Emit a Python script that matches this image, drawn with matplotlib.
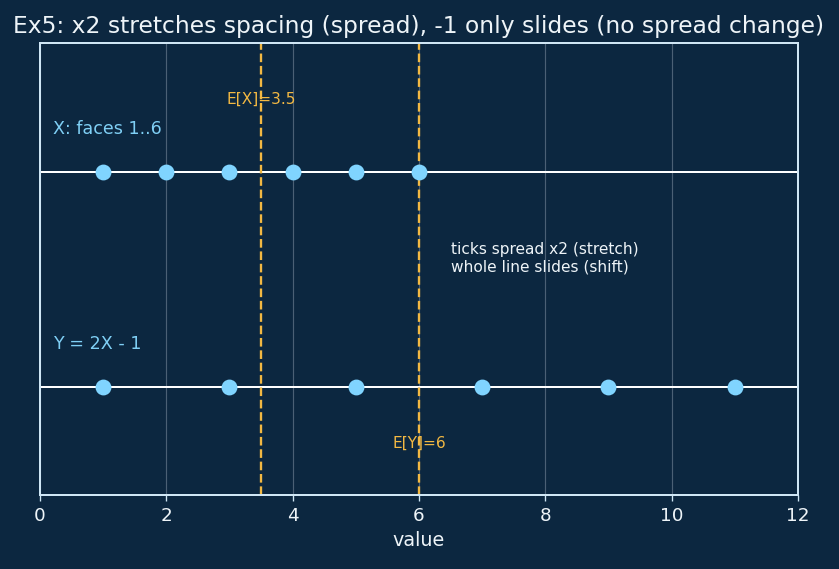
import matplotlib
matplotlib.use("Agg")
import matplotlib.pyplot as plt
import numpy as np

x_vals = [1, 2, 3, 4, 5, 6]
y_vals = [1, 3, 5, 7, 9, 11]
mean_x = 3.5
mean_y = 6
row_x = 1.0
row_y = 0.0
xticks = [0, 2, 4, 6, 8, 10, 12]

BG = "#0c2740"
DOT = "#80d4ff"
GOLD = "#f2b843"
LABEL = "#7fcff5"
SPINE = "#cfe6f5"
TXT = "#eef4f8"

W, H = 839, 569
fig = plt.figure(figsize=(W / 120, H / 120), dpi=120, facecolor=BG)
ax = fig.add_axes([40 / W, (H - 495) / H, 758 / W, 452 / H])
ax.set_facecolor(BG)

ax.axhline(row_x, color="white", lw=1.2, zorder=2)
ax.axhline(row_y, color="white", lw=1.2, zorder=2)
ax.plot(x_vals, [row_x] * len(x_vals), "o", color=DOT, ms=8.5, zorder=3)
ax.plot(y_vals, [row_y] * len(y_vals), "o", color=DOT, ms=8.5, zorder=3)

ax.axvline(mean_x, color=GOLD, ls="--", lw=1.4, zorder=2)
ax.axvline(mean_y, color=GOLD, ls="--", lw=1.4, zorder=2)

ax.text(mean_x, 1.34, "E[X]=3.5", color=GOLD, fontsize=9.2, ha="center", va="center")
ax.text(mean_y, -0.26, "E[Y]=6", color=GOLD, fontsize=9.2, ha="center", va="center")
ax.text(0.2, 1.2, "X: faces 1..6", color=LABEL, fontsize=10.5, ha="left", va="center")
ax.text(0.2, 0.2, "Y = 2X - 1", color=LABEL, fontsize=10.5, ha="left", va="center")
ax.text(6.5, 0.6, "ticks spread x2 (stretch)\nwhole line slides (shift)",
        color=TXT, fontsize=9.2, ha="left", va="center")

ax.set_xlim(0, 12)
ax.set_ylim(-0.5, 1.6)
ax.set_xticks(xticks)
ax.set_yticks([])
ax.grid(axis="x", color="#8a9aaa", alpha=0.5, lw=0.7)
ax.set_axisbelow(True)
for s in ax.spines.values():
    s.set_color(SPINE)
    s.set_linewidth(1.2)
ax.tick_params(axis="x", colors=SPINE, labelcolor=TXT, labelsize=11)
ax.set_xlabel("value", color=TXT, fontsize=11.5)
ax.set_title("Ex5: x2 stretches spacing (spread), -1 only slides (no spread change)",
             color=TXT, fontsize=14)

fig.savefig("out.png", dpi=120, facecolor=BG)
